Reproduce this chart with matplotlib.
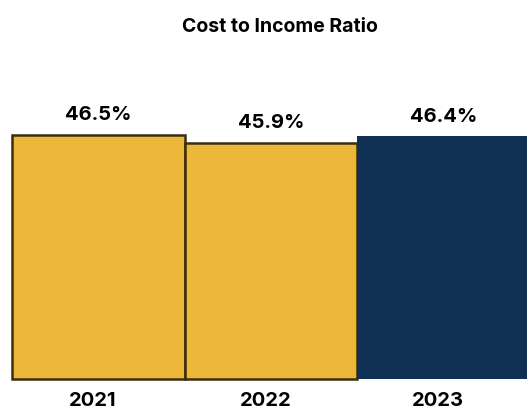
import matplotlib.pyplot as plt

years = ["2021", "2022", "2023"]
ratios = [46.5, 45.9, 46.4]
labels = ["46.5%", "45.9%", "46.4%"]
floor = 28  # value axis does not start at zero in the original

GOLD = "#EDB83A"
NAVY = "#0F3052"
EDGE = "#3B2E0E"

plt.rcParams["font.family"] = ["Inter", "DejaVu Sans"]

fig = plt.figure(figsize=(5.27, 4.10), dpi=100)
# axes runs past the right edge, like the original
ax = fig.add_axes([12 / 527, 30 / 410, 536 / 527, 290 / 410])

x = list(range(len(years)))
colors = [GOLD, GOLD, NAVY]
edges = [EDGE, EDGE, NAVY]
widths = [1.8, 1.8, 0]
for i in x:
    ax.bar(i, ratios[i] - floor, width=1.0, bottom=floor, color=colors[i],
           edgecolor=edges[i], linewidth=widths[i], clip_on=False)
    ax.annotate(labels[i], (i, ratios[i]), xytext=(0, 15), textcoords="offset points",
                ha="center", va="center", fontsize=14.5, fontweight="bold")

ax.set_xlim(-0.5, 2.607)
ax.set_ylim(floor, 50)
ax.set_xticks([i - 0.03 for i in x])
ax.set_xticklabels(years, fontsize=14.5, fontweight="bold")
ax.tick_params(axis="x", length=0, pad=8.5)
ax.set_yticks([])
for s in ax.spines.values():
    s.set_visible(False)

fig.text(280 / 527, 1 - 27 / 410, "Cost to Income Ratio", ha="center", va="center",
         fontsize=14, fontweight="bold")

fig.savefig("out.png", dpi=100)
